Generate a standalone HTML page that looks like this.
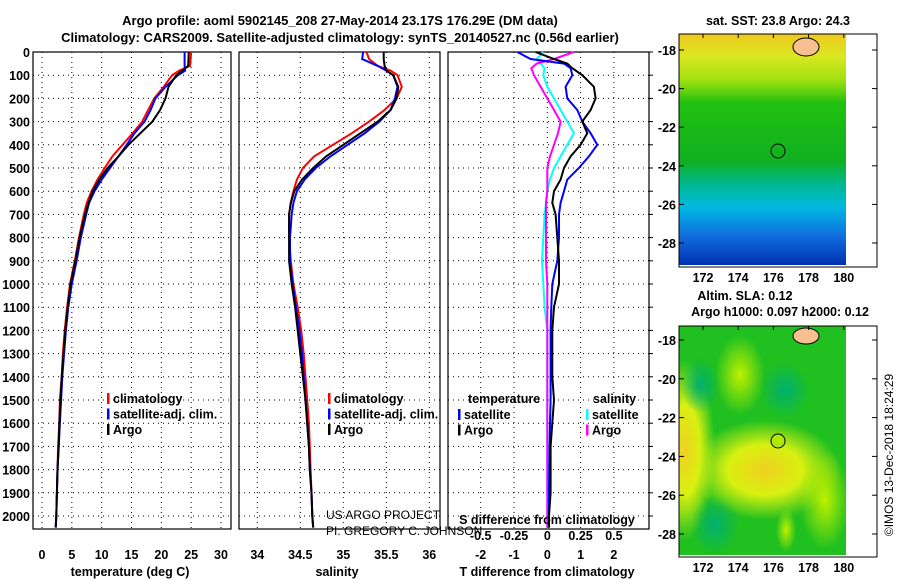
<!DOCTYPE html>
<html><head><meta charset="utf-8"><style>
body{margin:0;background:#fff;}
svg{display:block;font-family:"Liberation Sans",sans-serif;}
.t{font-weight:bold;font-size:13px;fill:#000;}
.tk{font-weight:bold;font-size:12.5px;fill:#000;}
.grid{stroke:#000;stroke-width:1;stroke-dasharray:1,4;}
</style></head><body>
<svg id="c" width="900" height="580" viewBox="0 0 900 580" xmlns="http://www.w3.org/2000/svg">
<defs>
<linearGradient id="sst" x1="0" y1="0" x2="0" y2="1">
<stop offset="0" stop-color="#f0c820"/><stop offset="0.1" stop-color="#d8e820"/>
<stop offset="0.2" stop-color="#a0e010"/><stop offset="0.3" stop-color="#20c010"/>
<stop offset="0.55" stop-color="#10b020"/><stop offset="0.65" stop-color="#00b890"/>
<stop offset="0.75" stop-color="#00b8e0"/><stop offset="0.87" stop-color="#1070e0"/>
<stop offset="1" stop-color="#0030b0"/></linearGradient>
<radialGradient id="yb1"><stop offset="0" stop-color="#f0d020"/><stop offset="0.5" stop-color="#d8f010"/><stop offset="1" stop-color="#d8f010" stop-opacity="0"/></radialGradient>
<radialGradient id="yb2"><stop offset="0" stop-color="#c0f000"/><stop offset="1" stop-color="#c0f000" stop-opacity="0"/></radialGradient>
<radialGradient id="gb"><stop offset="0" stop-color="#00b070"/><stop offset="1" stop-color="#00b070" stop-opacity="0"/></radialGradient>
<clipPath id="slaclip"><rect x="679" y="326" width="167" height="229"/></clipPath>
</defs>
<g id="titles">
<text class="t" x="340" y="25" text-anchor="middle" font-size="14">Argo profile: aoml 5902145_208 27-May-2014 23.17S 176.29E (DM data)</text>
<text class="t" x="340" y="42" text-anchor="middle" font-size="14">Climatology: CARS2009. Satellite-adjusted climatology: synTS_20140527.nc (0.56d earlier)</text>
</g>
<g id="panels"></g>
<g id="maps">
<text class="tk" x="778" y="25" text-anchor="middle">sat. SST: 23.8 Argo: 24.3</text>
<rect x="679" y="34" width="167" height="231" fill="url(#sst)"/>
<ellipse cx="806" cy="47" rx="13" ry="9" fill="#f8c090" stroke="#000"/>
<circle cx="778" cy="151" r="7" fill="none" stroke="#000"/>
<rect x="679" y="34" width="198" height="233" fill="none" stroke="#000"/>
<text class="tk" x="745" y="300" text-anchor="middle">Altim. SLA: 0.12</text>
<text class="tk" x="780" y="316" text-anchor="middle">Argo h1000: 0.097 h2000: 0.12</text>
<g clip-path="url(#slaclip)">
<rect x="679" y="326" width="167" height="229" fill="#20c020"/>
<ellipse cx="765" cy="470" rx="75" ry="50" fill="url(#yb1)"/>
<ellipse cx="685" cy="450" rx="30" ry="90" fill="url(#yb1)"/>
<ellipse cx="740" cy="375" rx="25" ry="40" fill="url(#yb2)"/>
<ellipse cx="825" cy="500" rx="25" ry="50" fill="url(#yb2)"/>
<ellipse cx="786" cy="530" rx="10" ry="22" fill="url(#yb2)"/>
<ellipse cx="785" cy="390" rx="25" ry="28" fill="url(#gb)"/>
<ellipse cx="700" cy="385" rx="20" ry="28" fill="url(#gb)"/>
<ellipse cx="715" cy="525" rx="24" ry="30" fill="url(#gb)"/>
</g>
<ellipse cx="806" cy="336" rx="13" ry="8" fill="#f8c090" stroke="#000"/>
<circle cx="778" cy="441" r="7" fill="#b0e800" stroke="#000"/>
<rect x="679" y="326" width="198" height="231" fill="none" stroke="#000"/>
<text font-size="12" x="893" y="455" text-anchor="middle" transform="rotate(-90 893 455)">©IMOS 13-Dec-2018 18:24:29</text>
</g>
</svg>
<script>
const depthTicks=[0,100,200,300,400,500,600,700,800,900,1000,1100,1200,1300,1400,1500,1600,1700,1800,1900,2000];
const tDepth=[0,60,80,100,150,200,250,300,350,400,450,500,550,600,650,700,800,900,1000,1100,1200,1300,1400,1500,1600,1700,1800,1900,2000,2050];
const tArgo=[24.6,24.5,23.5,22.5,21.2,20.7,19.8,18.5,16.5,14.5,12.8,11.0,9.6,8.5,7.8,7.2,6.3,5.6,4.8,4.3,3.9,3.6,3.3,3.1,2.9,2.8,2.6,2.5,2.4,2.3];
const tClim=[25.0,24.8,23.0,21.8,20.4,18.8,17.8,16.8,15.2,13.5,11.8,10.5,9.3,8.3,7.5,7.0,6.2,5.5,4.7,4.2,3.8,3.5,3.3,3.0,2.9,2.7,2.6,2.5,2.4,2.3];
const tSat=[23.9,23.9,24.0,22.8,20.7,19.0,18.2,17.2,15.5,14.2,12.8,11.4,10.0,8.8,7.9,7.4,6.5,5.8,5.0,4.4,4.0,3.7,3.4,3.2,3.0,2.8,2.6,2.5,2.4,2.3];
const sDepth=[0,30,60,80,100,150,200,250,300,350,400,450,500,550,600,650,700,800,900,1000,1100,1200,1300,1400,1500,1600,1700,1800,1900,2000,2050];
const sArgo=[35.47,35.47,35.48,35.5,35.58,35.64,35.62,35.55,35.4,35.2,35.0,34.8,34.65,34.52,34.43,34.39,34.37,34.37,34.37,34.4,34.44,34.47,34.5,34.53,34.56,34.58,34.6,34.61,34.63,34.64,34.65];
const sClim=[35.27,35.3,35.4,35.55,35.63,35.68,35.62,35.48,35.3,35.1,34.88,34.66,34.53,34.46,34.42,34.39,34.37,34.37,34.39,34.42,34.47,34.51,34.54,34.56,34.58,34.6,34.61,34.62,34.63,34.64,34.65];
const sSat=[35.23,35.22,35.4,35.5,35.58,35.63,35.6,35.55,35.42,35.25,35.05,34.85,34.68,34.55,34.46,34.42,34.4,34.38,34.38,34.41,34.45,34.49,34.52,34.54,34.56,34.58,34.6,34.61,34.63,34.64,34.65];
const dDepth=[0,30,50,70,100,150,200,250,300,350,400,450,500,550,600,650,700,800,900,1000,1100,1200,1300,1400,1500,1600,1700,1800,1900,2000,2050];
const dTArgo=[-0.35,0.2,0.6,0.75,1.05,1.4,1.45,1.3,1.05,1.2,1.0,0.7,0.5,0.4,0.2,0.15,0.25,0.3,0.35,0.35,0.2,0.15,0.15,0.15,0.2,0.15,0.1,0.1,0.1,0.05,0.05];
const dTSat=[-0.9,-0.5,0.5,0.7,0.75,0.55,0.6,0.9,1.05,1.3,1.5,1.25,0.95,0.6,0.5,0.4,0.35,0.35,0.3,0.15,0.12,0.1,0.1,0.1,0.1,0.08,0.07,0.06,0.05,0.05,0.05];
const dSArgo=[0.2,0.05,-0.08,-0.12,-0.1,-0.05,0,0.05,0.1,0.08,0.05,0.02,0,0,0,-0.01,-0.01,-0.01,-0.01,0,0,0,0,0,0,0,0,0,0,0,0];
const dSSat=[-0.03,-0.08,-0.05,-0.02,-0.03,0,0.05,0.1,0.15,0.2,0.15,0.1,0.05,0.02,0,-0.01,-0.02,-0.03,-0.04,-0.03,-0.02,0,0,0,0,0,0,0,0,0,0];
const tTicks=[0,5,10,15,20,25,30];
const sTicks=[34,34.5,35,35.5,36];
const dTTicks=[-2,-1,0,1,2];
const dSTicks=[-0.5,-0.25,0,0.25,0.5];
const mapLats=[-18,-20,-22,-24,-26,-28];
const mapLons=[172,174,176,178,180];

const NS='http://www.w3.org/2000/svg';
const root=document.getElementById('panels');
function el(tag,attrs,parent,txt){const e=document.createElementNS(NS,tag);for(const k in attrs)e.setAttribute(k,attrs[k]);if(txt!==undefined)e.textContent=txt;(parent||root).appendChild(e);return e;}
const Y0=52,YB=529;
const yD=d=>Y0+d*0.232;
function linScale(v0,p0,v1,p1){return v=>p0+(v-v0)*(p1-p0)/(v1-v0);}
const xT=linScale(0,42,30,221);
const xS=linScale(34,257.3,36,429.3);
const xDT=linScale(0,547.3,1,580.6);
const xDS=linScale(0,547.3,0.25,580.6);

function panel(name,x0,x1,xs,gridTicks){
  const g=el('g',{});
  
  
  depthTicks.forEach(d=>{el('line',{x1:x0,x2:x1,y1:yD(d),y2:yD(d),class:'grid'},g);});
  gridTicks.forEach(v=>{el('line',{x1:xs(v),x2:xs(v),y1:Y0,y2:YB,class:'grid'},g);});
  el('rect',{x:x0,y:Y0,width:x1-x0,height:YB-Y0,fill:'none',stroke:'#000','stroke-width':1.2},g);
  return g;
}
function line(g,xs,vals,depths,color,name,w){
  const pts=vals.map((v,i)=>xs(v).toFixed(1)+','+yD(depths[i]).toFixed(1)).join(' ');
  const p=el('polyline',{points:pts,fill:'none',stroke:color,'stroke-width':w||2},g);
  
  
}
function legend(g,x,y,items){
  items.forEach((it,i)=>{
    el('rect',{x:x,y:y+i*15.5-10,width:2.5,height:11,fill:it[1]},g);
    const t=el('text',{x:x+6,y:y+i*15.5,class:'tk'},g,it[0]);
    
    
  });
}
const ya=el('g',{});


depthTicks.forEach(d=>el('text',{x:30,y:yD(d)+5,'text-anchor':'end',class:'tk'},ya,String(d)));

const g1=panel('temperature-panel',33,231,xT,tTicks);
line(g1,xT,tClim,tDepth,'#f00','climatology-temp-line');
line(g1,xT,tSat,tDepth,'#00f','satellite-temp-line');
line(g1,xT,tArgo,tDepth,'#000','argo-temp-line');
tTicks.forEach(v=>el('text',{x:xT(v),y:559,'text-anchor':'middle',class:'tk'},g1,String(v)));
el('text',{x:130,y:576,'text-anchor':'middle',class:'tk'},g1,'temperature (deg C)');
legend(g1,107,403,[['climatology','#f00'],['satellite-adj. clim.','#00f'],['Argo','#000']]);

const g2=panel('salinity-panel',239,440,xS,sTicks);
line(g2,xS,sClim,sDepth,'#f00','climatology-salinity-line');
line(g2,xS,sSat,sDepth,'#00f','satellite-salinity-line');
line(g2,xS,sArgo,sDepth,'#000','argo-salinity-line');
sTicks.forEach(v=>el('text',{x:xS(v),y:559,'text-anchor':'middle',class:'tk'},g2,String(v)));
el('text',{x:337,y:576,'text-anchor':'middle',class:'tk'},g2,'salinity');
legend(g2,328,403,[['climatology','#f00'],['satellite-adj. clim.','#00f'],['Argo','#000']]);
el('text',{x:326,y:519,'font-size':12},g2,'US ARGO PROJECT');
el('text',{x:326,y:535,'font-size':12},g2,'PI: GREGORY C. JOHNSON');

const g3=panel('difference-panel',448,649,xDT,dTTicks);
line(g3,xDS,dSSat,dDepth,'#0ff','satellite-salinity-diff-line');
line(g3,xDS,dSArgo,dDepth,'#f0f','argo-salinity-diff-line');
line(g3,xDT,dTSat,dDepth,'#00f','satellite-temp-diff-line');
line(g3,xDT,dTArgo,dDepth,'#000','argo-temp-diff-line');
dTTicks.forEach(v=>el('text',{x:xDT(v),y:559,'text-anchor':'middle',class:'tk'},g3,String(v)));
dSTicks.forEach(v=>el('text',{x:xDS(v),y:540,'text-anchor':'middle',class:'tk'},g3,String(v)));
el('text',{x:547,y:524,'text-anchor':'middle',class:'tk'},g3,'S difference from climatology');
el('text',{x:547,y:576,'text-anchor':'middle',class:'tk'},g3,'T difference from climatology');
el('text',{x:468,y:403,class:'tk'},g3,'temperature');
legend(g3,458,419,[['satellite','#00f'],['Argo','#000']]);
el('text',{x:593,y:403,class:'tk'},g3,'salinity');
legend(g3,586,419,[['satellite','#0ff'],['Argo','#f0f']]);
depthTicks.forEach(d=>el('line',{x1:649,x2:653,y1:yD(d),y2:yD(d),stroke:'#000'},g3));

const mg=document.getElementById('maps');
[[34,50,19.3,267],[326,340,19.4,557]].forEach(([top,y18,dy,bot])=>{
  mapLats.forEach(la=>{
    const yp=y18+(-18-la)*dy;
    el('text',{x:676,y:yp+5,'text-anchor':'end',class:'tk'},mg,String(la));
    el('line',{x1:877,x2:872,y1:yp,y2:yp,stroke:'#000'},mg);
    el('line',{x1:679,x2:684,y1:yp,y2:yp,stroke:'#000'},mg);
  });
  mapLons.forEach(lo=>{const x=703+(lo-172)*17.6;
    el('text',{x:x,y:bot+15,'text-anchor':'middle',class:'tk'},mg,String(lo));
    el('line',{x1:x,x2:x,y1:top,y2:top+4,stroke:'#000'},mg);
  });
});
</script>
</body></html>
